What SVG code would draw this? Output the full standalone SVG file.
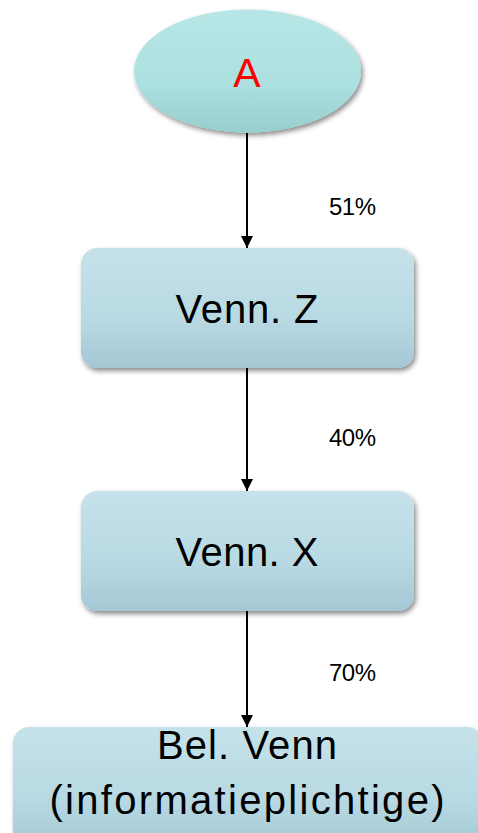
<svg xmlns="http://www.w3.org/2000/svg" width="478" height="833" viewBox="0 0 478 833">
<defs>
<linearGradient id="gEll" x1="0" y1="0" x2="0" y2="1">
<stop offset="0" stop-color="#b8e6e6"/><stop offset="0.6" stop-color="#ade0e0"/><stop offset="1" stop-color="#96cece"/>
</linearGradient>
<linearGradient id="gBox" x1="0" y1="0" x2="0" y2="1">
<stop offset="0" stop-color="#c5e2ea"/><stop offset="0.6" stop-color="#b8d9e3"/><stop offset="1" stop-color="#a3c8d4"/>
</linearGradient>
<filter id="sh" x="-10%" y="-10%" width="125%" height="130%">
<feDropShadow dx="2" dy="3" stdDeviation="2.5" flood-color="#000" flood-opacity="0.45"/>
</filter>
<marker id="arr" viewBox="0 0 10 10" refX="10" refY="5" markerWidth="13" markerHeight="12" markerUnits="userSpaceOnUse" orient="auto">
<path d="M0,0 L10,5 L0,10 z" fill="#000"/>
</marker>
</defs>
<style>
.lbl{font-family:"Liberation Sans",Arial,sans-serif;font-size:24px;fill:#000}
.big{font-family:"Liberation Sans",Arial,sans-serif;font-size:40px;fill:#000;text-anchor:middle}
.box{fill:url(#gBox);filter:url(#sh)}
.con{stroke:#000;stroke-width:2;fill:none;marker-end:url(#arr)}
</style>
<rect width="478" height="833" fill="#fff"/>
<g id="connectors">
<line class="con" x1="247" y1="133" x2="247" y2="248"/>
<line class="con" x1="247" y1="368" x2="247" y2="491"/>
<line class="con" x1="247" y1="611" x2="247" y2="727"/>
<text class="lbl" x="329" y="215" textLength="47">51%</text>
<text class="lbl" x="329" y="446" textLength="47">40%</text>
<text class="lbl" x="329" y="681" textLength="47">70%</text>
</g>
<g id="nodeA">
<ellipse cx="247.5" cy="71" rx="113.5" ry="61.5" fill="url(#gEll)" filter="url(#sh)"/>
<text x="247" y="87" font-family="Liberation Sans,Arial,sans-serif" font-size="41" fill="#ff0000" text-anchor="middle">A</text>
</g>
<g id="nodeZ">
<rect class="box" x="81" y="248" width="333" height="120" rx="16"/>
<text class="big" x="247" y="323" textLength="143">Venn. Z</text>
</g>
<g id="nodeX">
<rect class="box" x="81" y="491" width="333" height="120" rx="16"/>
<text class="big" x="247" y="566" textLength="143">Venn. X</text>
</g>
<g id="nodeBel">
<rect class="box" x="13" y="727" width="470" height="120" rx="16"/>
<text class="big" x="247" y="759" textLength="180">Bel. Venn</text>
<text class="big" x="247" y="814" textLength="395">(informatieplichtige)</text>
</g>
</svg>
